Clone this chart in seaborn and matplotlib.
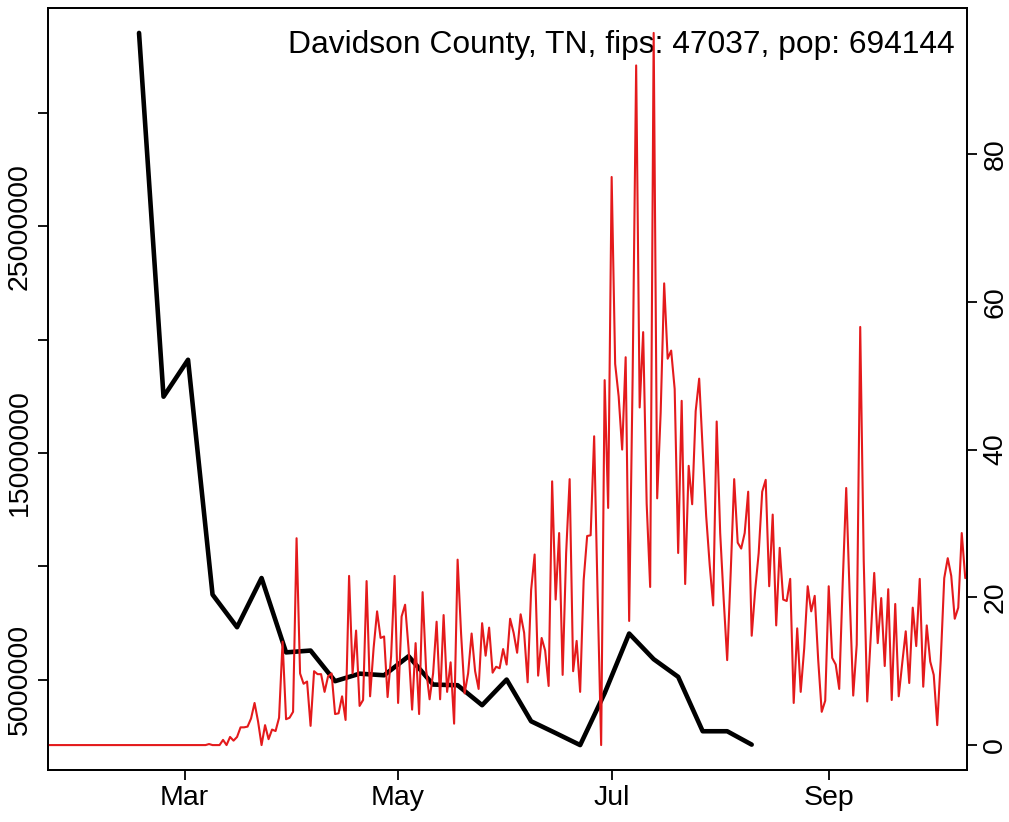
import matplotlib
matplotlib.use("Agg")
import matplotlib.pyplot as plt
import numpy as np
import pandas as pd
import seaborn as sns

# weekly series (left axis) and daily cases per 100k (right axis)
weekly_start = "2020-02-17"
weekly_vals = [33.53, 17.48, 19.11, 8.75, 7.31, 9.48, 6.20, 6.28, 4.93, 5.26,
               5.19, 6.03, 4.78, 4.75, 3.87, 5.00, 3.16, 2.64, 2.11, 4.40,
               7.03, 5.90, 5.12, 2.72, 2.72, 2.13]  # millions

daily_start = "2020-01-22"
daily_vals = [0] * 46 + [
    0.14, 0, 0, 0, 0.7, 0, 1.1, 0.6, 1.1, 2.4,
    2.4, 2.5, 3.6, 5.7, 3.2, 0, 2.7, 0.8, 2.1, 1.9,
    3.7, 14.0, 3.5, 3.7, 4.5, 28.0, 9.7, 8.3, 8.6, 2.6,
    10.0, 9.6, 9.6, 7.2, 9.3, 9.7, 4.2, 4.3, 6.6, 3.4,
    22.9, 9.7, 15.5, 5.3, 6.1, 22.2, 6.6, 13.1, 18.1, 14.5,
    14.7, 6.5, 12.0, 22.9, 5.7, 17.4, 19.0, 13.0, 4.8, 13.8,
    4.2, 20.7, 10.2, 6.2, 9.7, 16.7, 6.2, 17.6, 7.2, 11.2,
    2.9, 25.1, 15.0, 7.0, 9.7, 15.1, 10.0, 7.6, 16.5, 12.1,
    15.9, 9.8, 10.6, 10.4, 13.0, 10.9, 17.1, 15.2, 12.5, 17.7,
    15.2, 8.5, 21.0, 25.8, 9.4, 14.5, 12.8, 8.0, 35.7, 19.7,
    28.7, 9.5, 26.0, 36.0, 10.0, 14.1, 7.2, 22.3, 28.3, 28.4,
    41.8, 20.0, 0, 49.4, 32.1, 76.9, 51.6, 47.2, 40.0, 52.5,
    16.8, 50.0, 92.0, 45.7, 55.9, 32.7, 21.4, 96.4, 33.4, 45.0,
    62.5, 52.3, 53.4, 48.2, 26.0, 46.6, 21.8, 37.8, 32.6, 45.2,
    49.6, 40.0, 31.0, 24.4, 18.9, 43.8, 28.7, 19.7, 11.5, 23.3,
    36.0, 27.4, 26.6, 28.7, 34.3, 14.8, 21.0, 26.0, 34.3, 35.9,
    21.5, 31.2, 16.2, 26.7, 19.7, 19.5, 22.5, 5.7, 15.8, 7.2,
    13.1, 21.5, 18.1, 20.2, 11.5, 4.5, 6.0, 21.5, 11.8, 10.9,
    7.6, 22.0, 34.8, 20.1, 6.7, 13.6, 56.6, 25.0, 5.9, 14.7,
    23.3, 13.8, 19.9, 10.7, 21.1, 6.1, 19.1, 6.6, 11.1, 15.4,
    8.4, 18.6, 13.4, 22.5, 7.9, 16.2, 11.3, 9.5, 2.7, 11.5,
    22.6, 25.3, 22.9, 17.1, 18.6, 28.7, 22.6]

title = "Davidson County, TN, fips: 47037, pop: 694144"
left_ticks = [5e6, 10e6, 15e6, 20e6, 25e6, 30e6]
left_labels = ["5000000", "", "15000000", "", "25000000", ""]
right_ticks = [0, 20, 40, 60, 80]
month_ticks = ["2020-03-01", "2020-05-01", "2020-07-01", "2020-09-01"]
month_labels = ["Mar", "May", "Jul", "Sep"]

weekly = pd.DataFrame({
    "date": pd.date_range(weekly_start, periods=len(weekly_vals), freq="7D"),
    "value": np.array(weekly_vals) * 1e6,
})
daily = pd.DataFrame({
    "date": pd.date_range(daily_start, periods=len(daily_vals), freq="D"),
    "value": daily_vals,
})

sns.set_style("ticks")
plt.rcParams["font.family"] = ["Liberation Sans", "DejaVu Sans"]

fig = plt.figure(figsize=(10.09, 8.22), dpi=100)
ax = fig.add_axes([48 / 1009, 1 - 770 / 822, 919 / 1009, 762 / 822])
sns.lineplot(data=weekly, x="date", y="value", ax=ax, color="black", linewidth=3.3)

ax2 = ax.twinx()
sns.lineplot(data=daily, x="date", y="value", ax=ax2, color="#e41a1c", linewidth=1.5)


def padded(v, f=0.035):
    lo, hi = min(v), max(v)
    r = hi - lo
    return lo - f * r, hi + f * r


ax.set_ylim(padded(weekly["value"]))
ax2.set_ylim(padded(daily["value"]))
ax.set_xlim(daily["date"].iloc[0], daily["date"].iloc[-1] + pd.Timedelta(hours=12))

ax.set_yticks(left_ticks)
ax.set_yticklabels(left_labels, rotation=90, va="center")
ax2.set_yticks(right_ticks)
ax2.set_yticklabels([str(t) for t in right_ticks], rotation=90, va="center")
ax.set_xticks(pd.to_datetime(month_ticks))
ax.set_xticklabels(month_labels)

for a in (ax, ax2):
    a.set_xlabel("")
    a.set_ylabel("")
    a.tick_params(labelsize=20.5, length=7, width=1.3, pad=4, color="black",
                  labelcolor="black")
    for s in a.spines.values():
        s.set_visible(True)
        s.set_linewidth(1.3)
        s.set_color("black")

ax.text(0.987, 0.951, title, transform=ax.transAxes, ha="right", va="center",
        fontsize=22.9, color="black", zorder=5)

fig.savefig("out.png", dpi=100)
